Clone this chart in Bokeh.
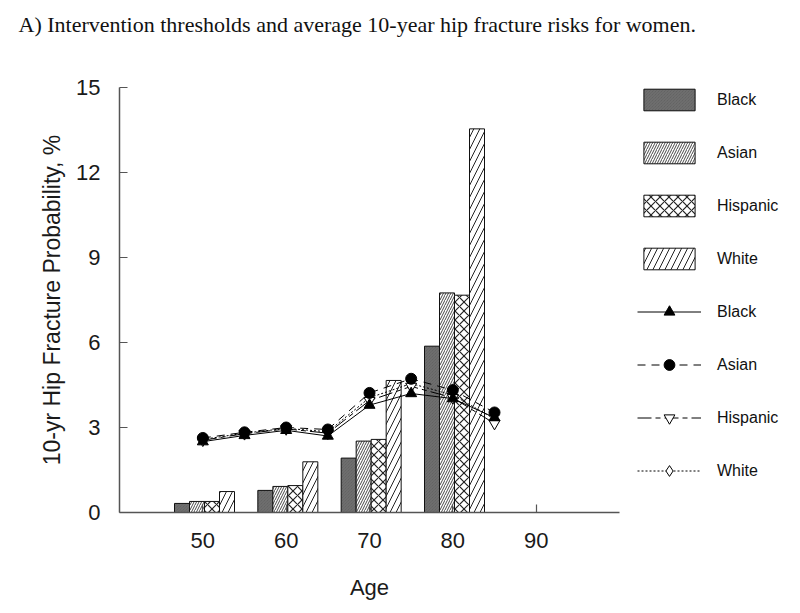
from bokeh.plotting import figure
from bokeh.models import ColumnDataSource, FixedTicker, Legend, LegendItem, Range1d, LinearAxis
from bokeh.transform import dodge
from bokeh.embed import file_html
from bokeh.resources import INLINE

# ---- data ----
bar_ages = [50, 60, 70, 80]
bar_black = [0.32, 0.78, 1.92, 5.87]
bar_asian = [0.39, 0.92, 2.52, 7.75]
bar_hispanic = [0.39, 0.95, 2.58, 7.67]
bar_white = [0.74, 1.79, 4.66, 13.54]

line_ages = [50, 55, 60, 65, 70, 75, 80, 85]
thr_black = [2.50, 2.72, 2.90, 2.70, 3.79, 4.20, 4.02, 3.35]
thr_asian = [2.63, 2.83, 3.00, 2.93, 4.22, 4.72, 4.32, 3.53]
thr_hispanic = [2.55, 2.78, 2.95, 2.80, 3.95, 4.45, 4.05, 3.14]
thr_white = [2.58, 2.80, 2.97, 2.85, 4.05, 4.55, 4.15, 3.30]

x_ticks = [50, 60, 70, 80, 90]
y_ticks = [0, 3, 6, 9, 12, 15]

title_text = "A) Intervention thresholds and average 10-year hip fracture risks for women."
x_title = "Age"
y_title = "10-yr Hip Fracture Probability, %"
groups = ["Black", "Asian", "Hispanic", "White"]

FONT = "Liberation Sans"

bsrc = ColumnDataSource(dict(age=bar_ages, black=bar_black, asian=bar_asian,
                             hispanic=bar_hispanic, white=bar_white))
lsrc = ColumnDataSource(dict(age=line_ages, black=thr_black, asian=thr_asian,
                             hispanic=thr_hispanic, white=thr_white))

p = figure(frame_width=500, frame_height=425, output_backend="svg", toolbar_location=None,
           x_range=Range1d(40, 100), y_range=Range1d(0, 15),
           min_border_left=119, min_border_right=181, min_border_top=87, min_border_bottom=101)
p.background_fill_color = "white"
p.border_fill_color = "white"
p.outline_line_color = None
p.xgrid.visible = False
p.ygrid.visible = False

xa = p.below[0]
ya = p.left[0]

# axes
for ax in (xa, ya):
    ax.axis_line_color = "#555555"
    ax.axis_line_width = 1.5
    ax.major_tick_line_color = "#555555"
    ax.major_tick_line_width = 1.2
    ax.major_tick_in = 8
    ax.major_tick_out = 0
    ax.minor_tick_line_color = None
    ax.major_label_text_font = FONT
    ax.major_label_text_font_size = "22px"
    ax.major_label_text_color = "#1a1a1a"
    ax.axis_label_text_font = FONT
    ax.axis_label_text_font_size = "22px"
    ax.axis_label_text_font_style = "normal"
    ax.axis_label_text_color = "#1a1a1a"

xa.ticker = FixedTicker(ticks=x_ticks)
ya.ticker = FixedTicker(ticks=y_ticks)
xa.axis_label = x_title
ya.axis_label = y_title
ya.axis_label_text_font_size = "23px"
xa.major_label_standoff = 20
ya.major_label_standoff = 19
xa.axis_label_standoff = 24
ya.axis_label_standoff = 8

# invisible spacer between frame and title (one hidden tick, blank label)
spacer = LinearAxis(ticker=FixedTicker(ticks=[70]), axis_line_color=None,
                    major_tick_line_color=None, minor_tick_line_color=None,
                    major_tick_in=0, major_tick_out=41, minor_tick_in=0, minor_tick_out=0,
                    major_label_standoff=0, major_label_overrides={70: ""},
                    major_label_text_font_size="1px")
p.add_layout(spacer, "above")

# title
p.title.text = title_text
p.title.text_font = "Liberation Serif"
p.title.text_font_size = "22px"
p.title.text_font_style = "normal"
p.title.text_color = "#111111"
p.title.align = "left"
p.title.offset = -101
p.title.standoff = 19

# bars
W = 1.8
b1 = p.vbar(x=dodge("age", -2.5), top="black", width=W, source=bsrc,
            fill_color="#5c5c5c", line_color="#111111", line_width=1,
            hatch_pattern="\\", hatch_color="#7a7a7a", hatch_scale=3, hatch_weight=0.8)
b2 = p.vbar(x=dodge("age", -0.7), top="asian", width=W, source=bsrc,
            fill_color="white", line_color="#111111", line_width=1,
            hatch_pattern="/", hatch_color="#333333", hatch_scale=5, hatch_weight=0.9)
b3 = p.vbar(x=dodge("age", 1.1), top="hispanic", width=W, source=bsrc,
            fill_color="white", line_color="#111111", line_width=1,
            hatch_pattern="x", hatch_color="#222222", hatch_scale=9, hatch_weight=1.2)
b4 = p.vbar(x=dodge("age", 2.9), top="white", width=W, source=bsrc,
            fill_color="white", line_color="#111111", line_width=1,
            hatch_pattern="/", hatch_color="#222222", hatch_scale=12, hatch_weight=1)

# threshold lines
l1 = p.line("age", "black", source=lsrc, line_color="black", line_width=1)
l2 = p.line("age", "asian", source=lsrc, line_color="black", line_width=1, line_dash="8 6")
l3 = p.line("age", "hispanic", source=lsrc, line_color="black", line_width=1, line_dash="14 4 5 4")
l4 = p.line("age", "white", source=lsrc, line_color="black", line_width=1, line_dash="2 2")

m4 = p.scatter("age", "white", source=lsrc, marker="diamond", size=12,
               fill_color="white", line_color="black", line_width=1)
m3 = p.scatter("age", "hispanic", source=lsrc, marker="inverted_triangle", size=11,
               fill_color="white", line_color="black", line_width=1)
m1 = p.scatter("age", "black", source=lsrc, marker="triangle", size=11,
               fill_color="black", line_color="black")
m2 = p.scatter("age", "asian", source=lsrc, marker="circle", size=11,
               fill_color="black", line_color="black")

items = [
    LegendItem(label=groups[0], renderers=[b1]),
    LegendItem(label=groups[1], renderers=[b2]),
    LegendItem(label=groups[2], renderers=[b3]),
    LegendItem(label=groups[3], renderers=[b4]),
    LegendItem(label=groups[0], renderers=[l1, m1]),
    LegendItem(label=groups[1], renderers=[l2, m2]),
    LegendItem(label=groups[2], renderers=[l3, m3]),
    LegendItem(label=groups[3], renderers=[l4, m4]),
]
legend = Legend(items=items, location=(18, 28), orientation="vertical")
legend.glyph_width = 64
legend.glyph_height = 27
legend.spacing = 26
legend.padding = 0
legend.margin = 0
legend.label_standoff = 16
legend.label_text_font = FONT
legend.label_text_font_size = "16px"
legend.label_text_color = "#111111"
legend.label_height = 27
legend.border_line_color = None
legend.background_fill_alpha = 0
p.add_layout(legend, "right")

open("out.html", "w").write(file_html(p, INLINE))
